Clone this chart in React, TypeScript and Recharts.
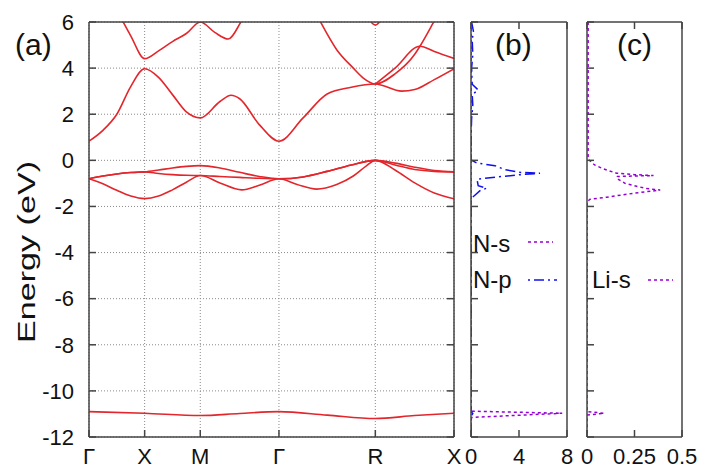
import React from 'react';
import { LineChart, Line, XAxis, YAxis, CartesianGrid } from 'recharts';

// ---------- axis definitions ----------
const kTicks = [0, 0.5, 1.0, 1.707, 2.573, 3.28];
const kLabels = ['Γ', 'X', 'M', 'Γ', 'R', 'X'];
const energyTicks = [-12, -10, -8, -6, -4, -2, 0, 2, 4, 6];
const dosNTicks = [0, 4, 8];
const dosNLabels = ['0', '4', '8'];
const dosLiTicks = [0, 0.25, 0.5];
const dosLiLabels = ['0', '0.25', '0.5'];

// ---------- band structure: [k, E(eV)] ----------
const bandDeep: [number, number][] = [
  [0, -10.9], [0.5, -10.97], [1.0, -11.07], [1.354, -10.98], [1.707, -10.9],
  [2.14, -11.05], [2.573, -11.2], [2.927, -11.07], [3.28, -10.97],
];
const bandV3: [number, number][] = [
  [0, -0.8], [0.125, -1.02], [0.25, -1.3], [0.375, -1.55], [0.5, -1.66],
  [0.625, -1.55], [0.75, -1.28], [0.875, -0.95], [1.0, -0.66],
  [1.177, -0.98], [1.372, -1.28], [1.53, -1.08], [1.707, -0.8],
  [1.87, -1.05], [2.046, -1.25], [2.226, -1.05], [2.375, -0.68], [2.49, -0.25], [2.573, 0],
  [2.75, -0.42], [2.927, -0.98], [3.103, -1.42], [3.28, -1.67],
];
const bandV2: [number, number][] = [
  [0, -0.8], [0.125, -0.68], [0.25, -0.59], [0.375, -0.53], [0.5, -0.5],
  [0.625, -0.57], [0.75, -0.62], [0.875, -0.65], [1.0, -0.66],
  [1.177, -0.7], [1.354, -0.74], [1.53, -0.78], [1.707, -0.8],
  [1.924, -0.72], [2.14, -0.48], [2.357, -0.2], [2.573, 0],
  [2.75, -0.2], [2.927, -0.4], [3.103, -0.48], [3.28, -0.5],
];
const bandV1: [number, number][] = [
  [0, -0.8], [0.125, -0.68], [0.25, -0.59], [0.375, -0.53], [0.5, -0.5],
  [0.625, -0.42], [0.75, -0.33], [0.875, -0.26], [1.0, -0.23],
  [1.177, -0.33], [1.354, -0.52], [1.53, -0.7], [1.707, -0.8],
  [1.924, -0.72], [2.14, -0.48], [2.357, -0.2], [2.573, 0],
  [2.75, -0.12], [2.927, -0.3], [3.103, -0.44], [3.28, -0.5],
];
const bandC1: [number, number][] = [
  [0, 0.83], [0.125, 1.3], [0.25, 2.0], [0.375, 3.2], [0.5, 3.97],
  [0.625, 3.6], [0.75, 2.85], [0.875, 2.1], [1.0, 1.84],
  [1.177, 2.55], [1.276, 2.82], [1.354, 2.67], [1.53, 1.55], [1.707, 0.83],
  [1.924, 1.84], [2.14, 2.88], [2.357, 3.17], [2.573, 3.31],
  [2.81, 3.0], [2.927, 3.07], [3.103, 3.5], [3.28, 3.97],
];
const bandC2: [number, number][] = [
  [0, 8.6], [0.125, 7.5], [0.25, 6.5], [0.375, 5.4], [0.5, 4.41],
  [0.625, 4.75], [0.75, 5.15], [0.875, 5.5], [1.0, 6.0],
  [1.13, 5.55], [1.252, 5.26], [1.372, 6.05], [1.53, 7.2], [1.707, 8.0],
];
const bandC3: [number, number][] = [
  [2.573, 3.31], [2.75, 4.0], [2.974, 4.95], [3.103, 4.72], [3.28, 4.42],
];
const bandC4: [number, number][] = [
  [1.707, 9.6], [1.924, 7.5], [2.076, 6.04], [2.226, 4.8], [2.375, 4.0],
  [2.465, 3.57], [2.573, 3.31], [2.75, 3.75], [2.927, 4.6], [2.974, 4.95],
  [3.103, 6.05], [3.28, 7.6],
];
const bandC5: [number, number][] = [
  [2.49, 6.5], [2.53, 6.05], [2.573, 5.87], [2.616, 6.05], [2.656, 6.5],
];
const bands = [bandDeep, bandV3, bandV2, bandV1, bandC1, bandC2, bandC3, bandC4, bandC5];

// ---------- projected DOS: [E(eV), DOS] ----------
const dosNs: [number, number][] = [
  [6, 0], [-10.88, 0], [-10.97, 7.6], [-11.15, 0.1], [-11.2, 0], [-12, 0],
];
const dosNp: [number, number][] = [
  [6, 0.05], [5.6, 0.2], [5.2, 0.1], [4.6, 0.15], [4.0, 0.05], [3.3, 0.1], [3.05, 0.6],
  [2.85, 0.1], [2.4, 0.15], [1.8, 0.05], [0.9, 0], [0.02, 0],
  [-0.12, 0.5], [-0.23, 2.0], [-0.4, 2.8], [-0.52, 4.0], [-0.56, 5.75],
  [-0.62, 4.2], [-0.72, 2.2], [-0.82, 0.5], [-1.1, 0.6], [-1.21, 1.3], [-1.32, 0.75],
  [-1.66, 0], [-10.9, 0], [-10.98, 0.15], [-11.1, 0], [-12, 0],
];
const dosLis: [number, number][] = [
  [6, 0.006], [0.05, 0.006], [-0.2, 0.04], [-0.37, 0.086], [-0.56, 0.156],
  [-0.62, 0.25], [-0.66, 0.35], [-0.7, 0.16], [-0.78, 0.156], [-1.0, 0.2],
  [-1.22, 0.31], [-1.29, 0.385], [-1.36, 0.314], [-1.47, 0.209], [-1.6, 0.104],
  [-1.69, 0.016], [-1.8, 0], [-10.9, 0], [-10.97, 0.09], [-11.05, 0], [-12, 0],
];

// ---------- styles ----------
const FONT = "'Liberation Sans', Arial, Helvetica, sans-serif";
const FRAME = '#444';
const RED = '#e3262b';
const PURPLE = '#9400d3';
const BLUE = '#1010ee';
const tickStyle = { fontSize: 22, fill: '#111', fontFamily: FONT };
const noLabel = () => '';

const toBand = (b: [number, number][]) => b.map(([k, e]) => ({ k, e }));
const toDos = (d: [number, number][]) => d.map(([e, v]) => ({ e, v }));

function BandPanel() {
  return (
    <LineChart width={470} height={469} margin={{ top: 21, right: 15, bottom: 0, left: 29 }}>
      <CartesianGrid stroke="#8a8a8a" strokeDasharray="1 2" strokeWidth={1} />
      <XAxis
        type="number" dataKey="k" domain={[0, 3.28]} ticks={kTicks} allowDataOverflow
        tickFormatter={(v: number) => kLabels[kTicks.indexOf(v)] ?? ''}
        height={32} tickSize={-7} tickMargin={18} interval={0}
        stroke={FRAME} strokeWidth={1.5} tick={tickStyle}
      />
      <XAxis
        xAxisId="top" orientation="top" type="number" domain={[0, 3.28]} ticks={kTicks} allowDataOverflow
        tickFormatter={noLabel} height={1} tickSize={-7} interval={0}
        stroke={FRAME} strokeWidth={1.5}
      />
      <YAxis
        type="number" domain={[-12, 6]} ticks={energyTicks} allowDataOverflow interval={0}
        width={60} tickSize={-7} tickMargin={22} stroke={FRAME} strokeWidth={1.5} tick={tickStyle}
      />
      <YAxis
        yAxisId="r" orientation="right" type="number" domain={[-12, 6]} ticks={energyTicks} allowDataOverflow
        interval={0} width={1} tickSize={-7} tickFormatter={noLabel} stroke={FRAME} strokeWidth={1.5}
      />
      {bands.map((b, i) => (
        <Line
          key={i} data={toBand(b)} dataKey="e" type="monotone" stroke={RED} strokeWidth={1.6}
          dot={false} activeDot={false} isAnimationActive={false}
        />
      ))}
    </LineChart>
  );
}

function DosPanel(props: {
  width: number; marginLeft: number; marginRight: number; max: number; ticks: number[];
  labels: string[]; series: { data: [number, number][]; color: string; dash: string }[];
}) {
  const { width, marginLeft, marginRight, max, ticks, labels, series } = props;
  return (
    <LineChart layout="vertical" width={width} height={469}
      margin={{ top: 21, right: marginRight, bottom: 0, left: marginLeft }}>
      <XAxis
        type="number" domain={[0, max]} ticks={ticks} allowDataOverflow interval={0}
        tickFormatter={(v: number) => labels[ticks.indexOf(v)] ?? ''}
        height={32} tickSize={-7} tickMargin={18} stroke={FRAME} strokeWidth={1.5} tick={tickStyle}
      />
      <XAxis
        xAxisId="top" orientation="top" type="number" domain={[0, max]} ticks={ticks} allowDataOverflow
        interval={0} tickFormatter={noLabel} height={1} tickSize={-7} stroke={FRAME} strokeWidth={1.5}
      />
      <YAxis
        type="number" dataKey="e" domain={[-12, 6]} ticks={energyTicks} allowDataOverflow interval={0}
        reversed width={1} tickSize={-7} tickFormatter={noLabel} stroke={FRAME} strokeWidth={1.5}
      />
      <YAxis
        yAxisId="r" orientation="right" type="number" domain={[-12, 6]} ticks={energyTicks} allowDataOverflow
        reversed interval={0} width={1} tickSize={-7} tickFormatter={noLabel} stroke={FRAME} strokeWidth={1.5}
      />
      {series.map((s, i) => (
        <Line
          key={i} data={toDos(s.data)} dataKey="v" type="linear" stroke={s.color} strokeWidth={1.5}
          strokeDasharray={s.dash} dot={false} activeDot={false} isAnimationActive={false}
        />
      ))}
    </LineChart>
  );
}

export default function App() {
  return (
    <div style={{ position: 'absolute', left: 0, top: 0, width: 703, height: 469, background: '#fff', fontFamily: FONT, overflow: 'hidden' }}>
      <div style={{ position: 'absolute', left: 0, top: 0 }}>
        <BandPanel />
      </div>
      <div style={{ position: 'absolute', left: 460, top: 0 }}>
        <DosPanel width={120} marginLeft={10} marginRight={12} max={8} ticks={dosNTicks}
          labels={dosNLabels}
          series={[
            { data: dosNs, color: PURPLE, dash: '3 3' },
            { data: dosNp, color: BLUE, dash: '10 4 2 4' },
          ]} />
      </div>
      <div style={{ position: 'absolute', left: 576, top: 0 }}>
        <DosPanel width={127} marginLeft={10} marginRight={20} max={0.5} ticks={dosLiTicks}
          labels={dosLiLabels}
          series={[{ data: dosLis, color: PURPLE, dash: '3 3' }]} />
      </div>
      <svg width={703} height={469} style={{ position: 'absolute', left: 0, top: 0, pointerEvents: 'none' }}>
        <g fontFamily={FONT} fill="#111">
          <text x={15} y={55} fontSize={30}>(a)</text>
          <text x={495} y={55} fontSize={30}>(b)</text>
          <text x={617} y={55} fontSize={30}>(c)</text>
          <text x={0} y={0} fontSize={23} textAnchor="middle" dominantBaseline="central"
            textLength={182} lengthAdjust="spacingAndGlyphs"
            transform="translate(27,252) rotate(-90)">Energy (eV)</text>
          <text x={473} y={252} fontSize={24}>N-s</text>
          <text x={473} y={288} fontSize={24}>N-p</text>
          <text x={592} y={288} fontSize={24}>Li-s</text>
        </g>
        <line x1={528} y1={242} x2={553} y2={242} stroke={PURPLE} strokeWidth={1.5} strokeDasharray="3 3" />
        <line x1={528} y1={280} x2={557} y2={280} stroke={BLUE} strokeWidth={1.5} strokeDasharray="2 4 10 4" />
        <line x1={648} y1={280} x2={673} y2={280} stroke={PURPLE} strokeWidth={1.5} strokeDasharray="3 3" />
      </svg>
    </div>
  );
}
